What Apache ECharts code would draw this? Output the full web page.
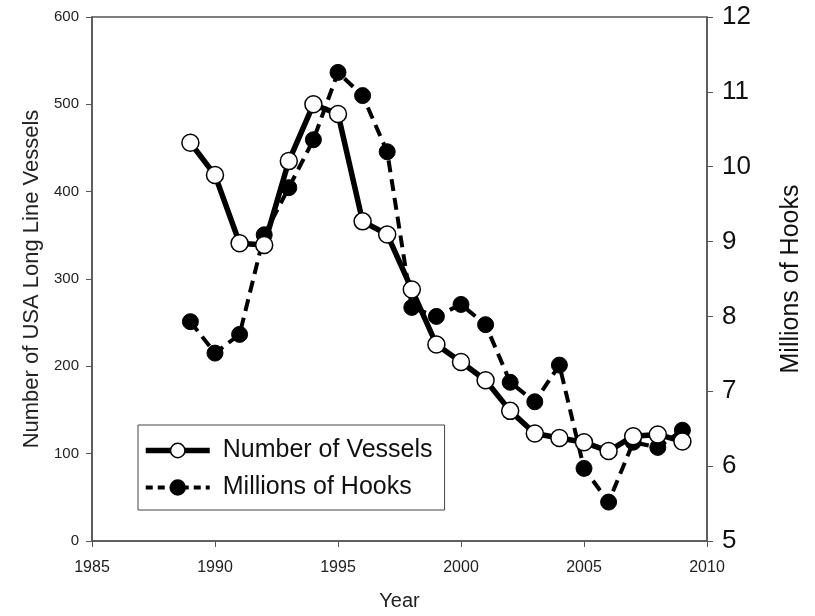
<!DOCTYPE html>
<html><head><meta charset="utf-8">
<script src="https://cdn.jsdelivr.net/npm/echarts@6/dist/echarts.min.js"></script>
<style>html,body{margin:0;padding:0;background:#fff}#c{width:815px;height:616px}</style>
</head><body><div id="c"></div>
<script>
const years = [1989,1990,1991,1992,1993,1994,1995,1996,1997,1998,1999,2000,2001,2002,2003,2004,2005,2006,2007,2008,2009];
const vessels = [456,419,341,339,435,500,489,366,351,288,225,205,184,149,123,118,113,103,120,122,114];
const hooks = [7.93,7.51,7.76,9.09,9.72,10.36,11.26,10.95,10.20,8.12,8.00,8.16,7.89,7.12,6.86,7.35,5.97,5.52,6.32,6.25,6.48];
const seriesNames = ['Number of Vessels','Millions of Hooks'];

const chart = echarts.init(document.getElementById('c'), null, {renderer:'canvas'});
const axisCol = '#555';
const font = 'Liberation Sans, Arial, sans-serif';
chart.setOption({
  animation:false,
  backgroundColor:'#fff',
  textStyle:{fontFamily:font},
  grid:{left:92,right:108,top:17,bottom:74,show:true,borderColor:axisCol,borderWidth:1.5,backgroundColor:'transparent'},
  legend:{
    left:138, top:425, orient:'vertical', itemGap:12,
    itemWidth:64, itemHeight:18,
    borderColor:'#444', borderWidth:1, padding:[13,12,10,5],
    textStyle:{fontSize:25,color:'#111',fontFamily:font,padding:[0,0,0,8]},
    data:[
      {name:seriesNames[0], lineStyle:{width:5.5,color:'#000'}, itemStyle:{color:'#fff',borderColor:'#000',borderWidth:1.5}},
      {name:seriesNames[1], lineStyle:{width:4,color:'#000',type:[7,5]}, itemStyle:{color:'#000',borderColor:'#000'}}
    ]
  },
  xAxis:{
    type:'value', min:1985, max:2010, interval:5,
    name:'Year', nameLocation:'middle', nameGap:50,
    nameTextStyle:{fontSize:20,color:'#222'},
    axisLine:{lineStyle:{color:axisCol,width:1.5}},
    axisTick:{show:true,length:6,lineStyle:{color:axisCol}},
    axisLabel:{fontSize:16,color:'#222',margin:19,formatter:v=>String(v)},
    splitLine:{show:false}
  },
  yAxis:[{
    type:'value', min:0, max:600, interval:100, position:'left',
    name:'Number of USA Long Line Vessels', nameLocation:'middle', nameGap:49,
    nameTextStyle:{fontSize:22,color:'#222'},
    axisLine:{show:true,lineStyle:{color:axisCol,width:1.5}},
    axisTick:{show:true,length:6,lineStyle:{color:axisCol}},
    axisLabel:{fontSize:15,color:'#222',margin:13},
    splitLine:{show:false}
  },{
    type:'value', min:5, max:12, interval:1, position:'right',
    name:'Millions of Hooks', nameLocation:'middle', nameGap:72,
    nameRotate:90,
    nameTextStyle:{fontSize:25,color:'#111'},
    axisLine:{show:true,lineStyle:{color:axisCol,width:1.5}},
    axisTick:{show:true,length:6,lineStyle:{color:axisCol}},
    axisLabel:{fontSize:26,color:'#111',margin:15},
    splitLine:{show:false}
  }],
  series:[{
    name:seriesNames[0], type:'line', yAxisIndex:0,
    data:years.map((y,i)=>[y,vessels[i]]),
    symbol:'circle', symbolSize:17,
    lineStyle:{color:'#000',width:5.5},
    itemStyle:{color:'#fff',borderColor:'#000',borderWidth:1.5},
    z:3
  },{
    name:seriesNames[1], type:'line', yAxisIndex:1,
    data:years.map((y,i)=>[y,hooks[i]]),
    symbol:'circle', symbolSize:16,
    lineStyle:{color:'#000',width:4,type:[12,7]},
    itemStyle:{color:'#000',borderColor:'#000',borderWidth:1},
    z:2
  }]
});
</script></body></html>
